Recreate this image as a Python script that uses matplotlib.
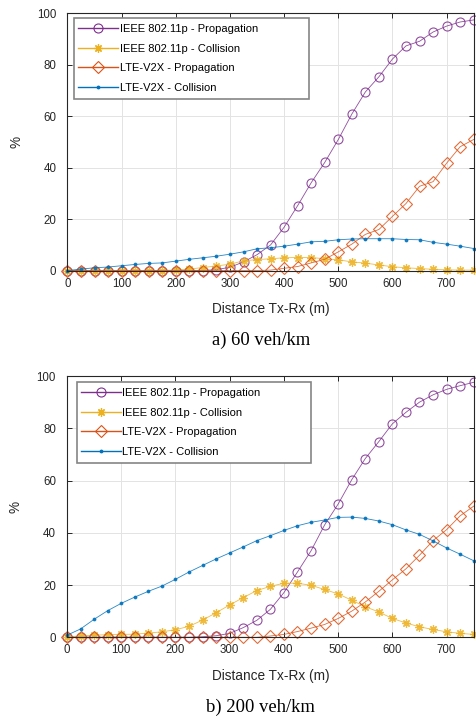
import numpy as np
import matplotlib
matplotlib.use("Agg")
import matplotlib.pyplot as plt
from matplotlib.patches import Rectangle

plt.rcParams['font.family'] = ['Liberation Sans', 'DejaVu Sans']

# distance between transmitter and receiver (m)
distance = [0, 25, 50, 75, 100, 125, 150, 175, 200, 225, 250, 275, 300, 325, 350,
            375, 400, 425, 450, 475, 500, 525, 550, 575, 600, 625, 650, 675, 700, 725, 750]

# 60 veh/km
ieee_prop_60 = [0, 0, 0, 0, 0, 0, 0, 0, 0, 0, 0, 0.4, 1.3, 3.4, 6.2,
                10.0, 16.9, 25.3, 34.2, 42.1, 51.0, 60.9, 69.5, 75.4, 82.3, 87.4, 89.2, 92.8, 95.1, 96.7, 97.5]
ieee_coll_60 = [0, 0, 0, 0, 0, 0, 0, 0, 0.3, 0.6, 1.2, 1.8, 2.5, 3.8, 4.3,
                4.6, 5.0, 5.1, 5.1, 4.6, 4.2, 3.4, 2.9, 2.2, 1.5, 1.1, 0.8, 0.5, 0.3, 0.2, 0.2]
lte_prop_60 = [0, 0, 0, 0, 0, 0, 0, 0, 0, 0, 0, 0, 0, 0, 0,
               0.2, 0.9, 1.6, 3.0, 4.4, 7.3, 10.3, 14.1, 16.0, 21.1, 26.1, 32.8, 34.6, 41.8, 48.2, 51.0]
lte_coll_60 = [0.0, 0.6, 1.1, 1.4, 1.9, 2.4, 2.8, 3.0, 3.7, 4.4, 5.0, 5.6, 6.4, 7.3, 8.5,
               8.9, 9.5, 10.3, 11.2, 11.4, 12.0, 12.3, 12.4, 12.4, 12.4, 12.1, 12.0, 11.0, 10.3, 9.5, 8.6]

# 200 veh/km
ieee_prop_200 = [0, 0, 0, 0, 0, 0, 0, 0, 0, 0, 0.2, 0.6, 1.5, 3.7, 6.5,
                 10.7, 17.1, 25.0, 33.1, 43.0, 51.0, 60.3, 68.4, 74.9, 81.7, 86.1, 90.0, 92.8, 94.9, 96.3, 97.6]
ieee_coll_200 = [0.2, 0.5, 0.8, 1.0, 1.1, 1.2, 1.6, 2.1, 2.9, 4.2, 6.6, 9.4, 12.4, 15.2, 17.9,
                 19.5, 20.7, 20.7, 19.9, 18.3, 16.6, 14.2, 11.7, 9.7, 7.2, 5.5, 4.0, 3.0, 2.1, 1.5, 1.1]
lte_prop_200 = [0, 0, 0, 0, 0, 0, 0, 0, 0, 0, 0, 0, 0, 0, 0,
                0.5, 1.1, 2.2, 3.5, 4.9, 7.2, 10.0, 13.5, 17.6, 22.0, 26.2, 31.4, 37.0, 41.2, 46.5, 50.2]
lte_coll_200 = [0.8, 3.2, 6.9, 10.2, 13.0, 15.4, 17.6, 19.6, 22.2, 25.0, 27.5, 30.0, 32.3, 34.6, 37.0,
                38.9, 40.9, 42.7, 44.0, 44.9, 45.9, 46.0, 45.5, 44.5, 43.1, 41.1, 39.4, 36.9, 34.2, 31.8, 29.3]

labels = ['IEEE 802.11p - Propagation', 'IEEE 802.11p - Collision',
          'LTE-V2X - Propagation', 'LTE-V2X - Collision']

purple = '#7E2F8E'
yellow = '#EDB120'
orange = '#D95319'
blue = '#0072BD'

W, H = 476, 718


def drawPanel(ax, series, box):
    styles = [
        dict(color=purple, marker='o', ms=6.5, mfc='none', mew=0.8),
        dict(color=yellow, marker=(8, 2, 0), ms=6, mew=0.9),
        dict(color=orange, marker='D', ms=6, mfc='none', mew=0.8),
        dict(color=blue, marker='.', ms=3.5),
    ]
    handles = []
    for vals, st, lab in zip(series, styles, labels):
        h, = ax.plot(distance, vals, lw=0.6, clip_on=False, label=lab, **st)
        h.set_alpha(0.85)
        handles.append(h)

    ax.set_xlim(0, 750)
    ax.set_ylim(0, 100)
    ax.set_xticks(np.arange(0, 701, 100))
    ax.set_yticks(np.arange(0, 101, 20))
    ax.grid(True, color='#e3e3e3', lw=0.7)
    ax.set_axisbelow(True)
    ax.tick_params(direction='in', top=True, right=True, length=3.5, width=0.7,
                   labelsize=8.3, colors='#262626')
    ax.tick_params(axis='y', pad=8)
    ax.tick_params(axis='x', pad=5)
    for sp in ax.spines.values():
        sp.set_color('#262626')
        sp.set_linewidth(0.8)
    ax.set_xlabel('Distance Tx-Rx (m)', fontsize=9.8, color='#262626', labelpad=9)
    ax.set_ylabel('%', fontsize=9.8, color='#262626', labelpad=10)

    # legend frame, box = (left, top, right, bottom) in pixels from top-left
    x0, y0, x1, y1 = box
    frame = Rectangle((x0 / W, 1 - y1 / H), (x1 - x0) / W, (y1 - y0) / H,
                      transform=fig.transFigure, facecolor='white', edgecolor='#858585',
                      lw=1.2, zorder=4, clip_on=False)
    ax.add_patch(frame)

    leg = ax.legend(handles=handles, loc='upper left',
                    bbox_to_anchor=(x0 / W, 1 - (y0 + 2) / H), bbox_transform=fig.transFigure,
                    borderaxespad=0, fontsize=8.0, handlelength=3.6, handletextpad=0.12,
                    labelspacing=0.86, borderpad=0.4, frameon=False)
    for lh in leg.get_lines():
        lh.set_alpha(1)
        lh.set_linewidth(1.0)


fig = plt.figure(figsize=(W / 100, H / 100), dpi=100)
ax1 = fig.add_axes([0.1418, 0.6231, 0.8534, 0.3581])
ax2 = fig.add_axes([0.1408, 0.1124, 0.8544, 0.3639])

drawPanel(ax1, [ieee_prop_60, ieee_coll_60, lte_prop_60, lte_coll_60], (74, 17.7, 309, 99))
drawPanel(ax2, [ieee_prop_200, ieee_coll_200, lte_prop_200, lte_coll_200], (76.7, 381.7, 311, 463))

fig.text(0.548, 1 - 340 / H, 'a) 60 veh/km', ha='center', va='center',
         fontsize=13.4, family='Liberation Serif')
fig.text(0.548, 1 - 707 / H, 'b) 200 veh/km', ha='center', va='center',
         fontsize=13.4, family='Liberation Serif')

fig.savefig('out.png', dpi=100)
